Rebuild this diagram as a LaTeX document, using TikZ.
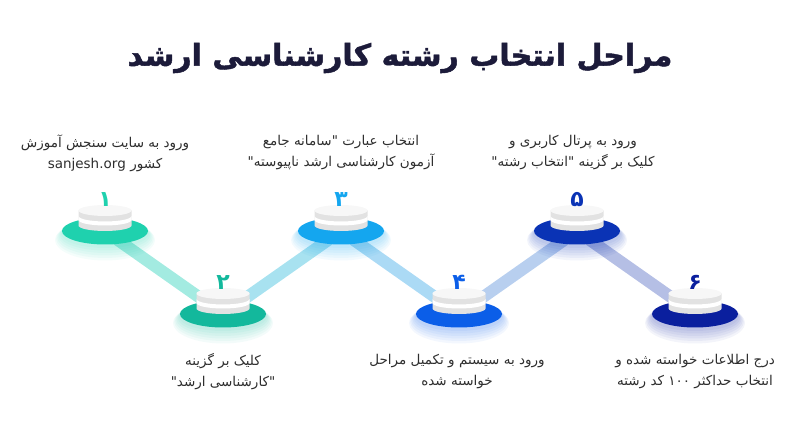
\documentclass[tikz,border=0pt]{standalone}
\usepackage{fontspec}
\setmainfont{DejaVu Sans}
\newfontfamily\fa[Script=Arabic]{DejaVu Sans}
\newfontfamily\fahead[Script=Arabic, FakeBold=1.6]{DejaVu Sans Bold}
\TeXXeTstate=1
\usetikzlibrary{positioning}
\definecolor{ink}{HTML}{1C1B3A}
\definecolor{txt}{HTML}{2E2E2E}
\definecolor{band}{HTML}{E2E2E2}
\definecolor{face}{HTML}{F7F7F7}
\definecolor{cA}{HTML}{1FD1AE}
\definecolor{cB}{HTML}{13B89C}
\definecolor{cC}{HTML}{14A6EF}
\definecolor{cD}{HTML}{0B5EE8}
\definecolor{cE}{HTML}{0A33B5}
\definecolor{cF}{HTML}{0A1F9E}
\newcommand\rl[1]{\beginR #1\endR}

\begin{document}
\begin{tikzpicture}[x=1pt, y=1pt,
  label/.style={font=\fa\fontsize{13.5}{21}\selectfont, text=txt, align=center, inner sep=0pt},
  num/.style={font=\fa\bfseries\fontsize{22}{22}\selectfont, inner sep=0pt},
  link/.style={line width=12pt}]
\useasboundingbox (0,0) rectangle (799,430);

\node[font=\fahead\fontsize{30}{36}\selectfont, text=ink] (title) at (400,372) {\rl{مراحل انتخاب رشته کارشناسی ارشد}};

% disc centres
\foreach \n/\x/\y in {1/105/199, 2/223/116, 3/341/199, 4/459/116, 5/577/199, 6/695/116}
  \coordinate (d\n) at (\x,\y);

% links
\foreach \a/\b/\c in {1/2/A3EBE1, 2/3/A8E2F0, 3/4/ABDAF5, 4/5/B8CFEF, 5/6/B5BFE5}
  {\definecolor{lk}{HTML}{\c}\draw[link, lk] (d\a) -- (d\b);}

% discs
\foreach \n/\x/\y/\c/\t in {1/105/199/cA/۱, 2/223/116/cB/۲, 3/341/199/cC/۳, 4/459/116/cD/۴, 5/577/199/cE/۵, 6/695/116/cF/۶}{
  \foreach \k in {0,...,5}
    \fill[\c, opacity=.05] (\x,\y-3-\k*1.2) ellipse[x radius=44+\k*1.2, y radius=14+\k*1.3];
  \fill[\c] (d\n) ellipse[x radius=43, y radius=13.5];
  \fill[band] (\x-26.5,\y+20.5) -- (\x-26.5,\y+5.5) arc[start angle=180, end angle=360, x radius=26.5, y radius=5.5] -- (\x+26.5,\y+20.5) -- cycle;
  \fill[white] (\x-26.5,\y+15) arc[start angle=180, end angle=360, x radius=26.5, y radius=5.5] -- (\x+26.5,\y+11) arc[start angle=0, end angle=-180, x radius=26.5, y radius=5.5] -- cycle;
  \fill[face] (\x,\y+20.5) ellipse[x radius=26.5, y radius=5.5];
  \node[num, text=\c] (n\n) at (\x,\y+31.5) {\t};
}

% captions
\node[label] (t1) at (105,277) {\rl{ورود به سایت سنجش آموزش}\\\rl{کشور \beginL sanjesh.org\endL}};
\node[label] (t3) at (341,277) {\rl{انتخاب عبارت "سامانه جامع}\\\rl{آزمون کارشناسی ارشد ناپیوسته"}};
\node[label] (t5) at (573,277) {\rl{ورود به پرتال کاربری و}\\\rl{کلیک بر گزینه "انتخاب رشته"}};
\node[label] (b2) at (223,58) {\rl{کلیک بر گزینه}\\\rl{"کارشناسی ارشد"}};
\node[label] (b4) at (457,58) {\rl{ورود به سیستم و تکمیل مراحل}\\\rl{خواسته شده}};
\node[label] (b6) at (695,58) {\rl{درج اطلاعات خواسته شده و}\\\rl{انتخاب حداکثر \beginL۱۰۰\endL{} کد رشته}};
\end{tikzpicture}
\end{document}
